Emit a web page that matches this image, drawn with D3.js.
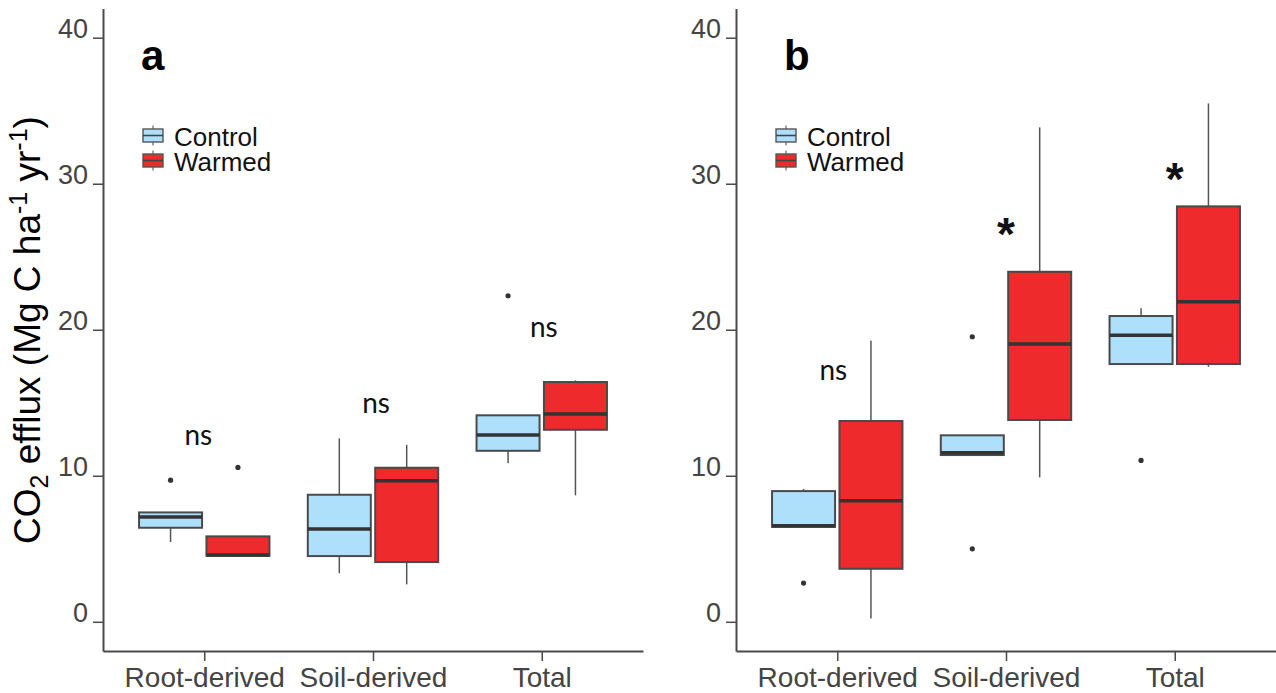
<!DOCTYPE html>
<html>
<head>
<meta charset="utf-8">
<script src="https://cdn.jsdelivr.net/npm/d3@7"></script>
<style>
  body { margin: 0; background: #fff; }
  text { font-family: "Liberation Sans", Arial, sans-serif; }
</style>
</head>
<body>
<svg id="chart" width="1276" height="693"></svg>
<script>
const categories = ['Root-derived', 'Soil-derived', 'Total'];
const groups = ['Control', 'Warmed'];
const yTicks = [0, 10, 20, 30, 40];

// box summaries per category: [whisker low, q1, median, q3, whisker high]
const controlA = [[5.46, 6.44, 7.17, 7.49, 7.49], [3.33, 4.5, 6.35, 8.7, 12.56], [10.85, 11.71, 12.79, 14.14, 14.14]];
const warmedA = [[4.43, 4.52, 4.57, 5.85, 5.85], [2.56, 4.09, 9.66, 10.55, 12.12], [8.66, 13.15, 14.23, 16.42, 16.53]];
const controlOutA = [[9.7], [], [22.33]];
const warmedOutA = [[10.57], [], []];
const sigA = ['ns', 'ns', 'ns'];
const sigValA = [12.6, 14.8, 20.0];

const controlB = [[6.5, 6.5, 6.58, 8.95, 9.09], [11.42, 11.42, 11.58, 12.77, 12.77], [17.65, 17.65, 19.62, 20.94, 21.47]];
const warmedB = [[0.23, 3.63, 8.29, 13.75, 19.25], [9.89, 13.82, 19.02, 23.97, 33.86], [17.47, 17.65, 21.92, 28.45, 35.5]];
const controlOutB = [[2.65], [5.0, 19.52], [11.05]];
const warmedOutB = [[], [], []];
const sigB = ['ns', '*', '*'];
const sigValB = [17.1, 27.3, 31.05];

const colors = { Control: '#aee0fc', Warmed: '#ee2a2d' };

const panels = [
  { letter: 'a', x0: 103, letterX: 141, stats: { Control: controlA, Warmed: warmedA },
    outliers: { Control: controlOutA, Warmed: warmedOutA }, sig: sigA, sigVal: sigValA, sigDx: [-6, 3, 2] },
  { letter: 'b', x0: 736, letterX: 784, stats: { Control: controlB, Warmed: warmedB },
    outliers: { Control: controlOutB, Warmed: warmedOutB }, sig: sigB, sigVal: sigValB, sigDx: [-4, 0, 0] }
];

const svg = d3.select('#chart');
const y = d3.scaleLinear().domain([-2, 42]).range([651, 8.5]);

panels.forEach((p) => {
  const x = d3.scalePoint().domain(categories).range([p.x0, p.x0 + 540]).padding(0.6);
  const xg = d3.scaleBand().domain(groups).range([-65.2, 65.2]).paddingInner(0.065);
  const g = svg.append('g');

  // axes
  const ya = g.append('g')
    .attr('transform', `translate(${p.x0},0)`)
    .call(d3.axisLeft(y).tickValues(yTicks).tickSize(10).tickSizeOuter(0).tickPadding(5));
  ya.attr('font-size', 27).attr('font-family', null);
  ya.select('.domain').attr('stroke', '#4a4a4a').attr('stroke-width', 2);
  ya.selectAll('.tick line').attr('stroke', '#4a4a4a').attr('stroke-width', 1.5);
  ya.selectAll('.tick text').attr('dy', 0).attr('fill', '#444');

  const xa = g.append('g')
    .attr('transform', 'translate(0,651)')
    .call(d3.axisBottom(x).tickSize(10).tickSizeOuter(0).tickPadding(6));
  xa.attr('font-size', 28).attr('font-family', null);
  xa.select('.domain').attr('stroke', '#4a4a4a').attr('stroke-width', 2);
  xa.selectAll('.tick line').attr('stroke', '#4a4a4a').attr('stroke-width', 1.5);
  xa.selectAll('.tick text').attr('fill', '#444');

  const rows = categories.flatMap((c, i) => groups.map((gr) => ({
    cat: c, group: gr, s: p.stats[gr][i], out: p.outliers[gr][i]
  })));

  const boxes = g.selectAll('.box').data(rows).join('g').attr('class', 'box')
    .attr('transform', (d) => `translate(${x(d.cat) + xg(d.group)},0)`);
  const bw = xg.bandwidth();

  boxes.append('line')
    .attr('x1', bw / 2).attr('x2', bw / 2)
    .attr('y1', (d) => y(d.s[4])).attr('y2', (d) => y(d.s[3]))
    .attr('stroke', '#555').attr('stroke-width', 1.5);
  boxes.append('line')
    .attr('x1', bw / 2).attr('x2', bw / 2)
    .attr('y1', (d) => y(d.s[1])).attr('y2', (d) => y(d.s[0]))
    .attr('stroke', '#555').attr('stroke-width', 1.5);
  boxes.append('rect')
    .attr('x', 0).attr('width', bw)
    .attr('y', (d) => y(d.s[3]))
    .attr('height', (d) => y(d.s[1]) - y(d.s[3]))
    .attr('fill', (d) => colors[d.group])
    .attr('stroke', '#4a4a4a').attr('stroke-width', 2);
  boxes.append('line')
    .attr('x1', 0).attr('x2', bw)
    .attr('y1', (d) => y(d.s[2])).attr('y2', (d) => y(d.s[2]))
    .attr('stroke', '#333').attr('stroke-width', 3.5);
  boxes.selectAll('circle').data((d) => d.out).join('circle')
    .attr('cx', bw / 2).attr('cy', (v) => y(v)).attr('r', 2.6).attr('fill', '#333');

  // significance labels
  g.selectAll('.sig').data(p.sig).join('text').attr('class', 'sig')
    .attr('x', (d, i) => x(categories[i]) + p.sigDx[i])
    .attr('y', (d, i) => y(p.sigVal[i]) + (d === '*' ? 27 : 7.5))
    .attr('text-anchor', 'middle')
    .style('font-family', (d) => d === '*' ? '"Liberation Sans", Arial, sans-serif' : 'Lato, "Open Sans", sans-serif')
    .attr('font-weight', (d) => d === '*' ? 'bold' : 'normal')
    .attr('font-size', (d) => d === '*' ? 46 : 28)
    .attr('fill', '#111')
    .text((d) => d);

  // panel letter
  g.append('text')
    .attr('x', p.letterX).attr('y', 70)
    .attr('font-size', 42).attr('font-weight', 'bold').attr('fill', '#000')
    .text(p.letter);

  // legend
  const leg = g.selectAll('.leg').data(groups).join('g').attr('class', 'leg')
    .attr('transform', (d, k) => `translate(${p.x0 + 40},${129 + k * 25})`);
  leg.append('line').attr('x1', 10).attr('x2', 10).attr('y1', -3.5).attr('y2', 16.5)
    .attr('stroke', '#666').attr('stroke-width', 1.2);
  leg.append('rect').attr('width', 20).attr('height', 13)
    .attr('fill', (d) => colors[d]).attr('stroke', '#555').attr('stroke-width', 1.4);
  leg.append('line').attr('x1', 0).attr('x2', 20).attr('y1', 6.5).attr('y2', 6.5)
    .attr('stroke', '#444').attr('stroke-width', 1.6);
  leg.append('text').attr('x', 31).attr('y', 17)
    .attr('font-size', 26).attr('fill', '#111').text((d) => d);
});

// y axis title
const title = svg.append('text')
  .attr('transform', 'translate(40,330) rotate(-90)')
  .attr('text-anchor', 'middle')
  .attr('font-size', 37).attr('fill', '#000');
title.append('tspan').text('CO');
title.append('tspan').attr('dy', 8).attr('font-size', 25).text('2');
title.append('tspan').attr('dy', -8).text(' efflux (Mg C ha');
title.append('tspan').attr('dy', -13).attr('font-size', 25).text('-1');
title.append('tspan').attr('dy', 13).text(' yr');
title.append('tspan').attr('dy', -13).attr('font-size', 25).text('-1');
title.append('tspan').attr('dy', 13).text(')');
</script>
</body>
</html>
